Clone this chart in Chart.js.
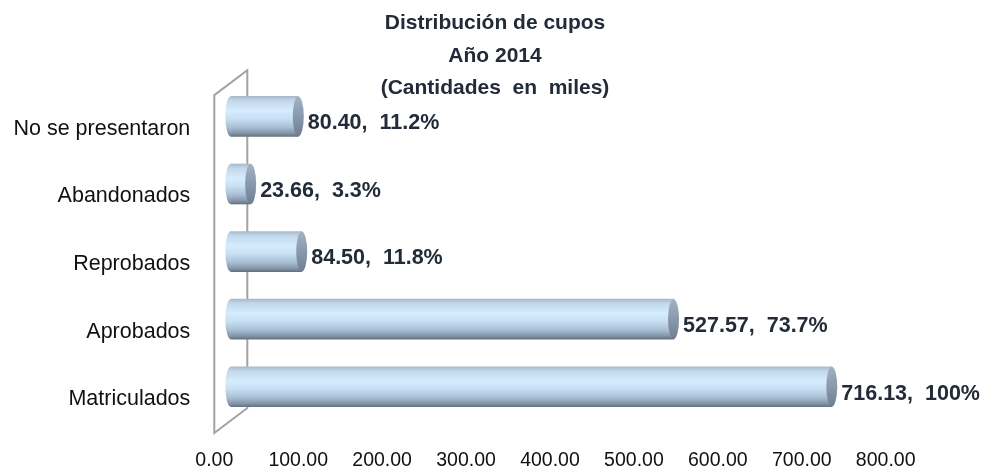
<!DOCTYPE html>
<html lang="es">
<head>
<meta charset="utf-8">
<title>Distribución de cupos 2014</title>
<script src="https://cdn.jsdelivr.net/npm/chart.js@4.4.1/dist/chart.umd.min.js"></script>
<style>
  html, body { margin: 0; padding: 0; background: #fff; }
  #wrap { width: 984px; height: 471px; position: relative; }
</style>
</head>
<body>
<div id="wrap"><canvas id="grafica"></canvas></div>
<script>
// datos (cantidades en miles)
const categorias = ['No se presentaron', 'Abandonados', 'Reprobados', 'Aprobados', 'Matriculados'];
const cantidades = [80.40, 23.66, 84.50, 527.57, 716.13];
const porcentajes = ['11.2%', '3.3%', '11.8%', '73.7%', '100%'];
const ticksX = [0, 100, 200, 300, 400, 500, 600, 700, 800];
const titulo = ['Distribución de cupos', 'Año 2014', '(Cantidades  en  miles)'];

const FUENTE = '"Liberation Sans", Arial, sans-serif';
const PROF = { x: 33, y: -25 };   // profundidad de la pared 3D
const RX = 5.5;                   // radio horizontal de las tapas

function gradCuerpo(ctx, yc, h) {
  const g = ctx.createLinearGradient(0, yc - h / 2, 0, yc + h / 2);
  g.addColorStop(0, '#a9b9ca');
  g.addColorStop(0.1, '#c0d6ea');
  g.addColorStop(0.35, '#d6ecfd');
  g.addColorStop(0.55, '#c8e0f4');
  g.addColorStop(0.78, '#a6bcd2');
  g.addColorStop(0.92, '#8495a8');
  g.addColorStop(1, '#65727f');
  return g;
}

function gradTapa(ctx, yc, h) {
  const g = ctx.createLinearGradient(0, yc - h / 2, 0, yc + h / 2);
  g.addColorStop(0, '#a2b1c2');
  g.addColorStop(0.5, '#8999ac');
  g.addColorStop(1, '#6f7e90');
  return g;
}

const cilindros = {
  id: 'cilindros',
  beforeDatasetsDraw(chart) {
    const { ctx, chartArea: a } = chart;
    ctx.save();
    ctx.strokeStyle = '#a3a3a3';
    ctx.lineWidth = 2;
    ctx.beginPath();
    ctx.moveTo(a.left, a.top);
    ctx.lineTo(a.left + PROF.x, a.top + PROF.y);
    ctx.lineTo(a.left + PROF.x, a.bottom + PROF.y);
    ctx.lineTo(a.left, a.bottom);
    ctx.closePath();
    ctx.stroke();
    // las barras van a media profundidad
    ctx.translate(PROF.x / 2, PROF.y / 2);
  },
  afterDatasetsDraw(chart) {
    const { ctx } = chart;
    const meta = chart.getDatasetMeta(0);
    meta.data.forEach(bar => {
      const h = bar.height;
      ctx.beginPath();
      ctx.ellipse(bar.base, bar.y, RX, h / 2, 0, Math.PI / 2, Math.PI * 1.5);
      ctx.closePath();
      ctx.fillStyle = gradCuerpo(ctx, bar.y, h);
      ctx.fill();
      ctx.beginPath();
      ctx.ellipse(bar.x, bar.y, RX, h / 2, 0, 0, Math.PI * 2);
      ctx.fillStyle = gradTapa(ctx, bar.y, h);
      ctx.fill();
    });
    ctx.restore();

    ctx.save();
    ctx.font = 'bold 21.5px ' + FUENTE;
    ctx.fillStyle = '#222b37';
    ctx.textAlign = 'left';
    ctx.textBaseline = 'middle';
    meta.data.forEach((bar, i) => {
      const txt = cantidades[i].toFixed(2) + ',  ' + porcentajes[i];
      ctx.fillText(txt, bar.x + PROF.x / 2 + RX + 4, bar.y + PROF.y / 2 + 7);
    });
    ctx.restore();
  }
};

new Chart(document.getElementById('grafica'), {
  type: 'bar',
  data: {
    labels: categorias,
    datasets: [{
      data: cantidades,
      backgroundColor: c => {
        const ys = c.chart.scales.y;
        const y = (ys && c.type === 'data') ? ys.getPixelForValue(c.dataIndex) : NaN;
        if (!isFinite(y)) return '#cae2f6';
        return gradCuerpo(c.chart.ctx, y, 40);
      },
      borderWidth: 0,
      barThickness: 40,
      clip: false
    }]
  },
  options: {
    indexAxis: 'y',
    responsive: true,
    maintainAspectRatio: false,
    animation: false,
    layout: { padding: { left: 12, right: 6, top: 0, bottom: 0 } },
    plugins: {
      legend: { display: false },
      tooltip: { enabled: false },
      title: {
        display: true,
        text: titulo,
        color: '#222b37',
        font: { family: FUENTE, size: 21, weight: 'bold', lineHeight: 1.55 },
        padding: { top: 7, bottom: -9.5 }
      }
    },
    scales: {
      x: {
        min: 0,
        max: 910,
        grid: { display: false, drawTicks: false },
        border: { display: false },
        afterBuildTicks: s => { s.ticks = ticksX.map(v => ({ value: v })); },
        afterFit: s => { s.height = 38; },
        ticks: {
          autoSkip: false,
          maxRotation: 0,
          padding: 16,
          color: '#111',
          font: { family: FUENTE, size: 19.5 },
          callback: v => Number(v).toFixed(2)
        }
      },
      y: {
        grid: { display: false, drawTicks: false },
        border: { display: false },
        afterFit: s => { s.width = 202.3; },
        ticks: {
          padding: 24,
          color: '#111',
          font: { family: FUENTE, size: 21.5 }
        }
      }
    }
  },
  plugins: [cilindros]
});
</script>
</body>
</html>
